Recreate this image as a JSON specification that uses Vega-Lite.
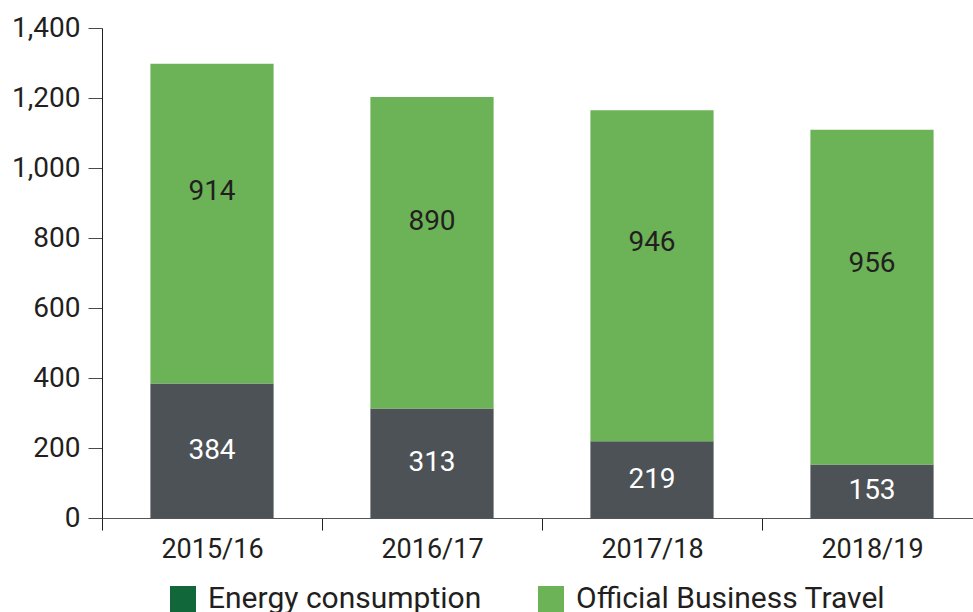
{
  "$schema": "https://vega.github.io/schema/vega-lite/v6.json",
  "autosize": {"type": "none"},
  "padding": {"left": 102, "top": 28, "right": 0, "bottom": 94},
  "width": 871,
  "height": 490,
  "background": "white",
  "config": {
    "view": {"stroke": null},
    "font": "Roboto",
    "axis": {
      "labelFont": "Roboto",
      "labelColor": "#231f20",
      "domainColor": "#231f20",
      "tickColor": "#4a4a4a",
      "grid": false,
      "title": null
    }
  },
  "data": {
    "values": [
      {"year": "2015/16", "category": "Energy consumption", "value": 384},
      {"year": "2015/16", "category": "Official Business Travel", "value": 914},
      {"year": "2016/17", "category": "Energy consumption", "value": 313},
      {"year": "2016/17", "category": "Official Business Travel", "value": 890},
      {"year": "2017/18", "category": "Energy consumption", "value": 219},
      {"year": "2017/18", "category": "Official Business Travel", "value": 946},
      {"year": "2018/19", "category": "Energy consumption", "value": 153},
      {"year": "2018/19", "category": "Official Business Travel", "value": 956}
    ]
  },
  "layer": [
    {
      "mark": {"type": "bar", "width": {"band": 0.56}},
      "encoding": {
        "x": {
          "field": "year",
          "type": "nominal",
          "scale": {"range": [0, 880], "paddingInner": 0, "paddingOuter": 0},
          "axis": {
            "labelAngle": 0,
            "tickBand": "extent",
            "tickSize": 12,
            "labelPadding": 6,
            "labelFontSize": 27,
            "domainColor": "#555555",
            "tickColor": "#231f20"
          }
        },
        "y": {
          "field": "value",
          "type": "quantitative",
          "stack": "zero",
          "scale": {"domain": [0, 1400], "nice": false},
          "axis": {
            "values": [0, 200, 400, 600, 800, 1000, 1200, 1400],
            "format": ",.0f",
            "labelFontSize": 28,
            "tickSize": 14,
            "labelPadding": 8
          }
        },
        "order": {"field": "category", "type": "nominal", "sort": "ascending"},
        "fill": {
          "field": "category",
          "type": "nominal",
          "scale": {
            "domain": ["Energy consumption", "Official Business Travel"],
            "range": ["#4d5256", "#6cb256"]
          },
          "legend": null
        }
      }
    },
    {
      "mark": {"type": "text", "fontSize": 28, "font": "Roboto", "baseline": "middle", "align": "center"},
      "encoding": {
        "x": {"field": "year", "type": "nominal"},
        "y": {"field": "value", "type": "quantitative", "stack": "zero", "bandPosition": 0.5},
        "order": {"field": "category", "type": "nominal", "sort": "ascending"},
        "detail": {"field": "category", "type": "nominal"},
        "text": {
          "condition": {"test": "datum.category === 'Energy consumption'", "field": "value", "type": "quantitative"},
          "value": ""
        },
        "color": {"value": "#ffffff"}
      }
    },
    {
      "mark": {"type": "text", "fontSize": 28, "font": "Roboto", "baseline": "middle", "align": "center"},
      "encoding": {
        "x": {"field": "year", "type": "nominal"},
        "y": {"field": "value", "type": "quantitative", "stack": "zero", "bandPosition": 0.6},
        "order": {"field": "category", "type": "nominal", "sort": "ascending"},
        "detail": {"field": "category", "type": "nominal"},
        "text": {
          "condition": {"test": "datum.category === 'Official Business Travel'", "field": "value", "type": "quantitative"},
          "value": ""
        },
        "color": {"value": "#231f20"}
      }
    },
    {
      "data": {
        "values": [
          {"series": "Energy consumption"},
          {"series": "Official Business Travel"}
        ]
      },
      "mark": {"type": "square", "opacity": 0},
      "encoding": {
        "color": {
          "field": "series",
          "type": "nominal",
          "scale": {
            "domain": ["Energy consumption", "Official Business Travel"],
            "range": ["#11663a", "#6cb256"]
          },
          "legend": {
            "title": null,
            "orient": "none",
            "direction": "horizontal",
            "legendX": 66,
            "legendY": 556,
            "padding": 0,
            "symbolType": "square",
            "symbolSize": 676,
            "symbolStrokeWidth": 0,
            "symbolOpacity": 1,
            "labelFont": "Roboto",
            "labelFontSize": 30,
            "labelColor": "#231f20",
            "labelOffset": 10,
            "columnPadding": 54,
            "labelLimit": 400
          }
        }
      }
    }
  ],
  "resolve": {"scale": {"color": "independent", "fill": "independent"}}
}
